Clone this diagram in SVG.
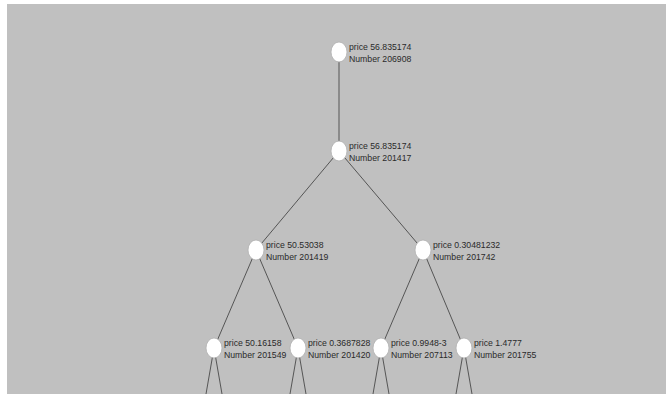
<svg xmlns="http://www.w3.org/2000/svg" width="666" height="394" viewBox="0 0 666 394">
<style>
.bg{fill:#c0c0c0}
.e{stroke:#555555;stroke-width:1;fill:none}
.n{fill:#ffffff;stroke:#b0b0b0;stroke-width:0.8}
.t{font-family:"Liberation Sans",Arial,sans-serif;font-size:8.7px;fill:#2a2a2a}
</style>
<rect width="666" height="394" fill="#ffffff"/>
<rect class="bg" x="7" y="4" width="659" height="390"/>
<g id="connectors">
<line class="e" x1="339" y1="52" x2="339" y2="151"/>
<line class="e" x1="339" y1="151" x2="256" y2="250"/>
<line class="e" x1="339" y1="151" x2="423" y2="250"/>
<line class="e" x1="256" y1="250" x2="214" y2="348"/>
<line class="e" x1="256" y1="250" x2="298" y2="348"/>
<line class="e" x1="423" y1="250" x2="381" y2="348"/>
<line class="e" x1="423" y1="250" x2="464" y2="348"/>
<line class="e" x1="214" y1="348" x2="206" y2="394"/>
<line class="e" x1="214" y1="348" x2="222" y2="394"/>
<line class="e" x1="298" y1="348" x2="290" y2="394"/>
<line class="e" x1="298" y1="348" x2="306" y2="394"/>
<line class="e" x1="381" y1="348" x2="373" y2="394"/>
<line class="e" x1="381" y1="348" x2="389" y2="394"/>
<line class="e" x1="464" y1="348" x2="456" y2="394"/>
<line class="e" x1="464" y1="348" x2="472" y2="394"/>
</g>
<g id="n0"><ellipse class="n" cx="339" cy="52" rx="8" ry="10"/><text class="t" x="349" y="50">price 56.835174</text><text class="t" x="349" y="62">Number 206908</text></g>
<g id="n1"><ellipse class="n" cx="339" cy="151" rx="8" ry="10"/><text class="t" x="349" y="149">price 56.835174</text><text class="t" x="349" y="161">Number 201417</text></g>
<g id="n2"><ellipse class="n" cx="256" cy="250" rx="8" ry="10"/><text class="t" x="266" y="248">price 50.53038</text><text class="t" x="266" y="260">Number 201419</text></g>
<g id="n3"><ellipse class="n" cx="423" cy="250" rx="8" ry="10"/><text class="t" x="433" y="248">price 0.30481232</text><text class="t" x="433" y="260">Number 201742</text></g>
<g id="n4"><ellipse class="n" cx="214" cy="348" rx="8" ry="10"/><text class="t" x="224" y="346">price 50.16158</text><text class="t" x="224" y="358">Number 201549</text></g>
<g id="n5"><ellipse class="n" cx="298" cy="348" rx="8" ry="10"/><text class="t" x="308" y="346">price 0.3687828</text><text class="t" x="308" y="358">Number 201420</text></g>
<g id="n6"><ellipse class="n" cx="381" cy="348" rx="8" ry="10"/><text class="t" x="391" y="346">price 0.9948-3</text><text class="t" x="391" y="358">Number 207113</text></g>
<g id="n7"><ellipse class="n" cx="464" cy="348" rx="8" ry="10"/><text class="t" x="474" y="346">price 1.4777</text><text class="t" x="474" y="358">Number 201755</text></g>
</svg>
